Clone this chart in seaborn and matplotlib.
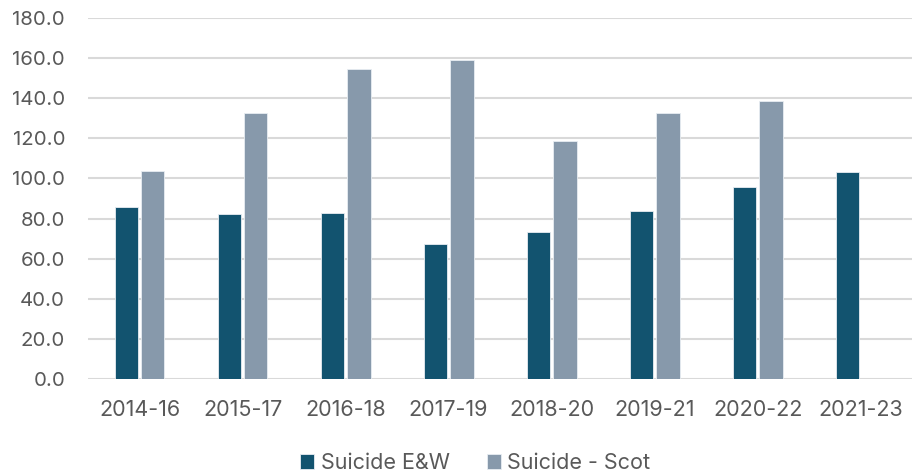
import matplotlib
matplotlib.use("Agg")
import matplotlib.pyplot as plt
import seaborn as sns
import pandas as pd
import numpy as np

categories = ["2014-16", "2015-17", "2016-18", "2017-19", "2018-20", "2019-21", "2020-22", "2021-23"]
suicide_ew = [85.9, 82.3, 82.6, 67.2, 73.5, 83.9, 95.9, 103.4]
suicide_scot = [103.7, 132.8, 154.7, 159.1, 118.7, 132.8, 138.6, np.nan]
series_names = ["Suicide E&W", "Suicide - Scot"]
yticks = [0, 20, 40, 60, 80, 100, 120, 140, 160, 180]

df = pd.DataFrame({
    "period": categories * 2,
    "value": suicide_ew + suicide_scot,
    "series": [series_names[0]] * len(categories) + [series_names[1]] * len(categories),
})

sns.set_theme(style="white")
plt.rcParams["font.family"] = ["Inter", "DejaVu Sans"]
text_color = "#595959"
fs = 14.7
fs_x = 15.5

fig = plt.figure(figsize=(9.14, 4.76), dpi=100)
ax = fig.add_axes([0.0963, 0.2038, 0.9017, 0.7582])

sns.barplot(data=df, x="period", y="value", hue="series", order=categories,
            hue_order=series_names, palette=["#12536F", "#8799AB"],
            width=0.515, gap=0.12, edgecolor="#E8EDF2", linewidth=0.6,
            saturation=1, ax=ax, legend=True)

ax.set_ylim(0, 180)
ax.set_xlim(-0.5, len(categories) - 0.5)
ax.set_yticks(yticks)
ax.set_yticklabels([f"{v:.1f}" for v in yticks])
ax.yaxis.grid(True, color="#D9D9D9", linewidth=1.5)
ax.set_axisbelow(True)
for s in ax.spines.values():
    s.set_visible(False)
ax.tick_params(axis="y", length=0, pad=16.5, labelsize=fs, labelcolor=text_color)
ax.tick_params(axis="x", length=0, pad=15, labelsize=fs_x, labelcolor=text_color)
ax.set_xlabel("")
ax.set_ylabel("")

handles, labels = ax.get_legend_handles_labels()
ax.get_legend().remove()
fig.legend(handles, labels, loc="center", bbox_to_anchor=(0.52, 0.027), ncol=2,
           frameon=False, fontsize=fs_x, labelcolor=text_color,
           handlelength=0.65, handleheight=0.65, handletextpad=0.3, columnspacing=1.7)

fig.savefig("out.png", dpi=100)
